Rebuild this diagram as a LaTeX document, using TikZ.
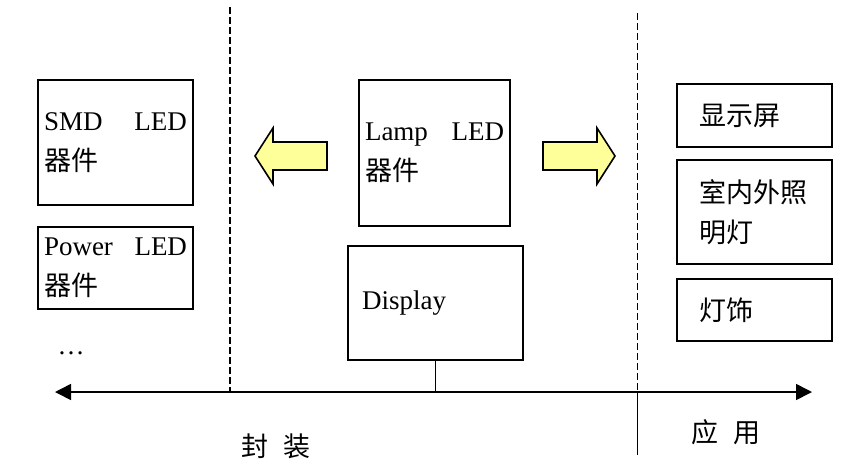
\documentclass[tikz,border=0pt]{standalone}
\usepackage{fontspec}
\setmainfont{Liberation Serif}
\newfontfamily\cjk{Noto Sans CJK SC}
\usetikzlibrary{arrows.meta}
\definecolor{arrowfill}{HTML}{FFFF99}

\begin{document}
\begin{tikzpicture}[
  x=1pt, y=-1pt,
  every node/.style={font=\fontsize{27}{40}\selectfont},
  box/.style={draw, line width=1.6pt, inner xsep=6pt, inner ysep=0pt, align=left},
  axis/.style={{Triangle[length=16pt,width=16pt]}-{Triangle[length=16pt,width=16pt]}, line width=1.6pt},
  divider/.style={dash pattern=on 6.5pt off 3.5pt, line width=1.8pt},
  blockarrow/.style={draw, line width=1.6pt, fill=arrowfill, line join=miter}
]
\useasboundingbox (0,0) rectangle (842,472);

% packaging side
\node[box, text width=143pt, minimum height=125pt] (smd) at (115.5,142.5) {SMD\hfill LED\\{\cjk 器件}};
\node[box, text width=143pt, minimum height=82pt] (power) at (115.5,268) {Power\hfill LED\\{\cjk 器件}};
\node (more) at (71,353) {…};

% centre
\node[box, text width=139pt, minimum height=146pt] (lamp) at (434.5,153) {Lamp\hfill LED\\{\cjk 器件}};
\node[box, inner xsep=14pt, text width=147pt, minimum height=114pt] (disp) at (435.5,303) {Display};

% application side
\node[box, inner xsep=22pt, text width=111pt, minimum height=63pt] (screen) at (754.5,115.5) {\cjk 显示屏};
\node[box, inner xsep=22pt, text width=111pt, minimum height=104pt] (light) at (754.5,212) {\cjk 室内外照\\明灯};
\node[box, inner xsep=22pt, text width=111pt, minimum height=62pt] (deco) at (754.5,310) {\cjk 灯饰};

\draw[blockarrow] (327,142) -- (273,142) -- (273,128) -- (255,156) -- (273,184) -- (273,170) -- (327,170) -- cycle;
\draw[blockarrow] (543,142) -- (597,142) -- (597,128) -- (615,156) -- (597,184) -- (597,170) -- (543,170) -- cycle;

% axis and dividers
\coordinate (axL) at (55,392);
\coordinate (axR) at (812,392);
\draw[axis] (axL) -- (axR);
\coordinate (pkgtop) at (230,7);
\coordinate (apptop) at (637.5,13);
\coordinate (appbot) at (637.5,455);
\draw[divider] (pkgtop) -- (pkgtop |- axL);
\draw[divider] (apptop) -- (apptop |- axL);
\draw[line width=1.6pt] (apptop |- axL) -- (appbot);
\draw[line width=1.6pt] (disp.south) -- (disp.south |- axL);

\node (pkg) at (276,446) {\cjk 封\hspace{15pt}装};
\node (app) at (726,432) {\cjk 应\hspace{15pt}用};
\end{tikzpicture}
\end{document}
